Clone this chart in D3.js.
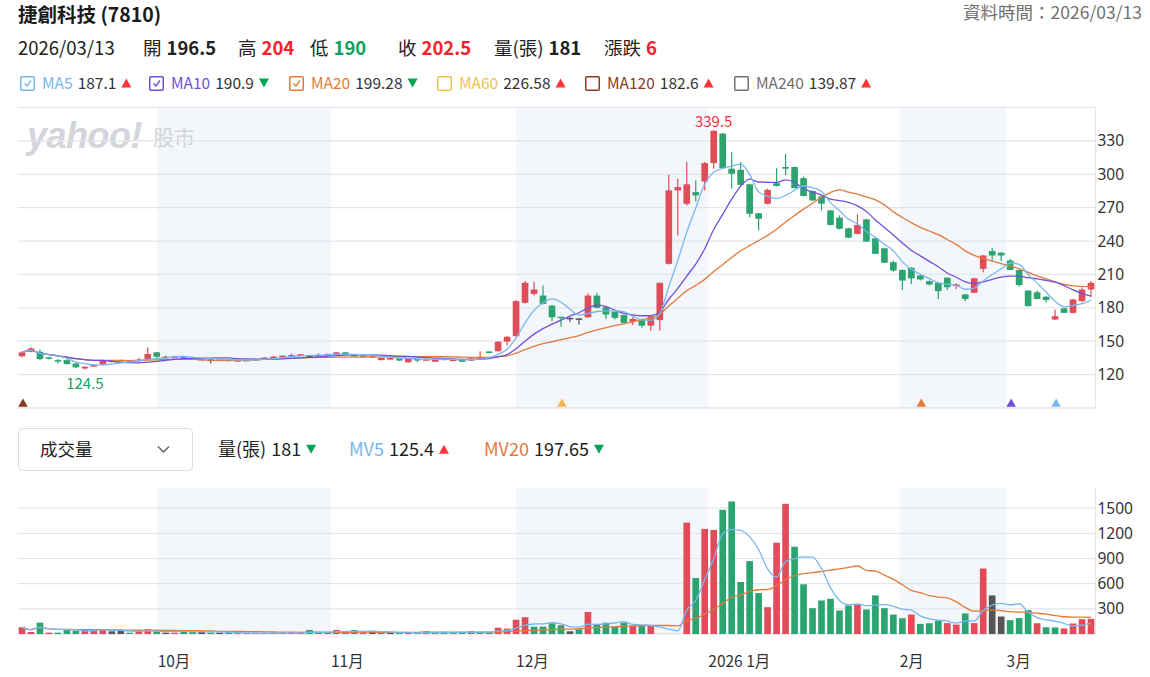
<!DOCTYPE html>
<html>
<head>
<meta charset="utf-8">
<script src="https://cdn.jsdelivr.net/npm/d3@7"></script>
<style>
  body { margin: 0; background: #fff; }
  svg { font-family: "Noto Sans CJK TC", "Noto Sans", sans-serif; }
</style>
</head>
<body>
<script>
// daily bars, 捷創科技 (7810), oldest first
const opens  = [136.5,140.5,140.5,135.5,133,133,130,125.5,127.5,129, 131.5,133,132.5,132,134,140,136,136,136.5,135.5,
                133.5,133.5,133,133.5,132,132.8,134,133.8,134.5,135.5, 136.8,136.8,137,137.5,137,138.2,140,137.7,137,136.3,
                133,133.5,134.5,131,134,133.5,131.5,134.5,133.3,134, 132.5,134.5,140.8,141,149.7,154.5,184.5,192.5,191,182,
                172,171,170.5,171.5,191,180.5,176.5,173.5,167.5,170, 164,169,219.5,285.5,273.5,284,293.5,310,336.5,305,
                304,291,265,273.5,292,306.5,306.5,296.5,285,280, 267.5,261,251.5,246.5,259.5,242.5,233.5,221,214,216,
                209,204,202.5,207,199.5,192,193.5,215,231,229.5, 222.5,214,195.5,194,190,169.5,179.5,175.5,186,196.5];
const highs  = [141,144.5,142.5,136,134,134,130.5,127.5,129,133, 133,133.5,133,135,144.5,140.5,137,137,137,136,
                134.5,134,134,134,133.5,133.5,134.5,135.5,136.5,137.3, 139,138.5,137.5,139,138.8,140.5,140.3,138,137.3,137,
                135.3,135.3,134.8,134.8,134.3,134.2,134.7,134.8,134,134.3, 134.8,141,141,150,154.5,187,204,203.5,200,182.5,
                172,171.3,170.6,193,193.5,181,177,174,171.5,170.5, 172.5,202.5,299.5,296,311,294.5,311,339.5,337,320,
                311,291.5,265.5,287,305.5,318.5,307,298,285.5,280.5, 268,263,252,264,260,243,234,222.5,214.5,216.5,
                209.5,204.5,203,207.5,202,192.5,207,227.5,234,230, 224,214.5,196,195.5,190.5,178.5,180,188,198.5,204];
const lows   = [135.5,140,133,133.5,130,129,126,124.5,127,128.5, 131,132,131,131,133.5,135,135.5,135.5,134.5,133.5,
                133,130,132.5,131.5,131.5,132.5,133.5,133.5,134.3,135.3, 136.5,136.5,136.5,137,136.8,138,137.5,136.5,136.3,136,
                132.8,133.3,132.3,130.8,131,133.2,131.3,132.8,133,131.3, 132.3,134.3,139.8,140.5,146,154,184,191,183,168,
                163,167,165,171,179.5,170,169.5,166,164.5,162, 159.5,159.5,219,245,272,275.5,285.5,305,305,287,
                290,261.5,249.5,273,289,299,287.5,280,276,267.5, 254,250.5,242.5,246,239.5,228.5,220.5,212.5,196,201.5,
                204.5,200,188,196,197,186,193,212,222.5,222, 214,199,181.5,187.5,184.8,169,175.5,175,185,190];
const closes = [140,143.5,134,134.5,132,129.5,126.5,127,128.5,132.5, 132.5,132.5,131.5,133.5,138.5,136,136,136.5,135,134,
                134,133.5,133.5,132.5,133,133.2,134,135.3,136.2,137, 137.6,138.3,137,137.5,138.6,140,137.7,136.8,136.5,136.5,
                135,135,132.6,134.5,133.7,133.8,134.5,133,133.5,131.5, 134.5,135.5,140,149.5,154,186,202.5,196.5,183.5,171.5,
                171,171,170.5,191,180,174,171,166.5,170,164, 172.5,202.5,285.5,288.5,291,281,310,339,305.5,300.5,
                290.5,264.5,260,286,289.5,305,287.5,280.5,276.5,273.5, 254.5,251,243,254.5,239.5,228.5,220.5,213.5,204.5,206.5,
                205.5,201,195,198.5,201,188,206.5,227,227,227, 214,200.5,181.5,188,187,172.5,175.5,187.5,196.5,202.5];
const volumes = [80,24,135,16,16,56,40,48,48,48, 32,36,16,32,56,32,16,16,32,28,
                 32,16,16,12,10,10,12,12,12,14, 14,14,48,14,14,48,32,48,16,32,
                 16,12,12,20,10,32,12,16,12,20, 32,24,16,75,64,170,200,87,87,127,
                 104,32,56,262,116,135,87,135,95,95, 95,0,0,0,1328,668,1252,1240,1480,1580,
                 620,868,488,320,1088,1552,1040,592,308,400, 420,280,340,348,292,460,308,232,188,232,
                 120,128,160,130,112,245,130,780,460,208, 165,190,285,128,80,78,66,125,177,181];

const priceTicks = [120, 150, 180, 210, 240, 270, 300, 330];
const priceGrid = [120, 150, 180, 210, 240, 270, 300, 330, 360];
const volTicks = [300, 600, 900, 1200, 1500];
// month starts in bar units and their labels
const monthTicks = [15.1, 34.4, 55, 76.4, 97.7, 109.6];
const monthLabels = ['10月', '11月', '12月', '2026 1月', '2月', '3月'];
const shadedMonths = [[15.1, 34.4], [55, 76.4], [97.7, 109.6]];
// crossover markers on the price axis
const markerBars = [0, 60, 100, 110, 115];
const markerColors = ['#8b3a22', '#f0b64a', '#e27a3b', '#6f4ed6', '#7cb8ee'];

const maDefs = [
  {name: 'MA5', n: 5, val: '187.1', up: true, color: '#79b6ef', on: true},
  {name: 'MA10', n: 10, val: '190.9', up: false, color: '#7150d9', on: true},
  {name: 'MA20', n: 20, val: '199.28', up: false, color: '#e27a3b', on: true},
  {name: 'MA60', n: 60, val: '226.58', up: true, color: '#f0c34e', on: false},
  {name: 'MA120', n: 120, val: '182.6', up: true, color: '#8b3a22', on: false},
  {name: 'MA240', n: 240, val: '139.87', up: true, color: '#6e6e6e', on: false}
];

const RED = '#e04c57', GREEN = '#2ba46f', GRAY = '#555', UP = '#ff333a', DOWN = '#00a651';

function movingAvg(arr, n) {
  return arr.map((v, i) => d3.mean(arr.slice(Math.max(0, i - n + 1), i + 1)));
}

const W = 1150, H = 677;
const svg = d3.select('body').append('svg').attr('width', W).attr('height', H);

const x = d3.scaleLinear().domain([-0.5, closes.length - 0.5]).range([17.5, 1095.5]);
const y = d3.scaleLinear().domain([90, 360]).range([408, 107.5]);
const yv = d3.scaleLinear().domain([0, 1740]).range([634, 488]);
const bw = (x(1) - x(0)) * 0.74;

// ---------- header ----------
function tri(g, cx, cy, up, color) {
  g.append('path')
    .attr('d', up ? `M${cx - 5},${cy + 4}L${cx + 5},${cy + 4}L${cx},${cy - 5}Z` : `M${cx - 5},${cy - 5}L${cx + 5},${cy - 5}L${cx},${cy + 4}Z`)
    .attr('fill', color);
}
function row(g, x0, yy, parts, size) {
  let cx = x0;
  parts.forEach(p => {
    if (p.tri !== undefined) { tri(g, cx + 5, yy - size * 0.35, p.tri, p.tri ? UP : DOWN); cx += 12; return; }
    const t = g.append('text').attr('x', cx).attr('y', yy).attr('font-size', size)
      .attr('fill', p.fill || '#222').attr('font-weight', p.bold ? 700 : 400).text(p.t);
    cx += t.node().getComputedTextLength() + (p.gap === undefined ? 5 : p.gap);
  });
}

const head = svg.append('g');
head.append('text').attr('x', 18).attr('y', 22).attr('font-size', 19.5).attr('font-weight', 700).attr('fill', '#1a1a1a').text('捷創科技 (7810)');
head.append('text').attr('x', 1142).attr('y', 19).attr('font-size', 17.5).attr('fill', '#707070').attr('text-anchor', 'end').text('資料時間：2026/03/13');

row(head, 18, 55, [{t: '2026/03/13'}], 18.5);
row(head, 143, 55, [{t: '開'}, {t: '196.5', bold: true}], 18.5);
row(head, 238, 55, [{t: '高'}, {t: '204', bold: true, fill: '#f5222d'}], 18.5);
row(head, 310, 55, [{t: '低'}, {t: '190', bold: true, fill: '#0fa160'}], 18.5);
row(head, 398, 55, [{t: '收'}, {t: '202.5', bold: true, fill: '#f5222d'}], 18.5);
row(head, 494, 55, [{t: '量(張)'}, {t: '181', bold: true}], 18.5);
row(head, 604, 55, [{t: '漲跌'}, {t: '6', bold: true, fill: '#f5222d'}], 18.5);

// MA legend
const legX = [20, 149, 289, 437, 585, 734];
maDefs.forEach((m, k) => {
  const g = head.append('g');
  g.append('rect').attr('x', legX[k] + 0.75).attr('y', 76.75).attr('width', 13.5).attr('height', 13.5)
    .attr('fill', '#fff').attr('stroke', m.color).attr('stroke-width', 1.5).attr('rx', 1);
  if (m.on) g.append('path').attr('d', `M${legX[k] + 4.5},${83.5}L${legX[k] + 7},${86}L${legX[k] + 11},${80.5}`)
    .attr('fill', 'none').attr('stroke', m.color).attr('stroke-width', 1.4);
  row(g, legX[k] + 22, 89, [{t: m.name, fill: m.color}, {t: m.val, fill: '#333'}, {tri: m.up}], 15.5);
});

// ---------- price panel ----------
const pg = svg.append('g');
shadedMonths.forEach(s => {
  pg.append('rect').attr('x', x(s[0])).attr('y', y(360)).attr('width', x(s[1]) - x(s[0])).attr('height', y(90) - y(360)).attr('fill', '#f3f6fa');
  pg.append('rect').attr('x', x(s[0])).attr('y', yv.range()[1]).attr('width', x(s[1]) - x(s[0])).attr('height', yv(0) - yv.range()[1]).attr('fill', '#f3f6fa');
});

pg.append('text').attr('x', 27).attr('y', 148).attr('font-size', 36).attr('font-weight', 700).attr('font-style', 'italic')
  .attr('fill', '#d3d5da').attr('font-family', 'Liberation Sans, Arial, sans-serif').attr('letter-spacing', -0.5).text('yahoo!');
pg.append('text').attr('x', 153).attr('y', 145).attr('font-size', 21).attr('fill', '#d3d5da').text('股市');

pg.selectAll('.pgrid').data(priceGrid).enter().append('line')
  .attr('x1', x.range()[0]).attr('x2', x.range()[1]).attr('y1', d => y(d)).attr('y2', d => y(d))
  .attr('stroke', '#e3e5ea').attr('stroke-width', 1.2);
pg.append('line').attr('x1', x.range()[0]).attr('x2', x.range()[1]).attr('y1', y(90)).attr('y2', y(90)).attr('stroke', '#d7dadf').attr('stroke-width', 1.2);
pg.append('line').attr('x1', x.range()[1]).attr('x2', x.range()[1]).attr('y1', y(360)).attr('y2', y(90)).attr('stroke', '#e3e5ea');

const yAxis = pg.append('g').attr('transform', `translate(${x.range()[1]},0)`)
  .call(d3.axisRight(y).tickValues(priceTicks).tickSize(0).tickPadding(2));
yAxis.select('.domain').remove();
yAxis.selectAll('text').attr('font-size', 15.5).attr('fill', '#333').attr('font-family', '"Noto Sans", sans-serif');

const idx = d3.range(closes.length);
const col = i => closes[i] > opens[i] ? RED : closes[i] < opens[i] ? GREEN : GRAY;

pg.selectAll('.wick').data(idx).enter().append('line')
  .attr('x1', i => x(i)).attr('x2', i => x(i)).attr('y1', i => y(highs[i])).attr('y2', i => y(lows[i]))
  .attr('stroke', col).attr('stroke-width', 1.2);
pg.selectAll('.body').data(idx).enter().append('rect')
  .attr('x', i => x(i) - bw / 2).attr('width', bw)
  .attr('y', i => y(Math.max(opens[i], closes[i])))
  .attr('height', i => Math.max(1.5, Math.abs(y(opens[i]) - y(closes[i]))))
  .attr('fill', col);

const line = d3.line().x((d, i) => x(i)).y(d => y(d)).curve(d3.curveMonotoneX);
maDefs.filter(m => m.on).reverse().forEach(m => {
  pg.append('path').attr('d', line(movingAvg(closes, m.n))).attr('fill', 'none').attr('stroke', m.color).attr('stroke-width', 1.3);
});

const hiI = d3.maxIndex(highs), loI = d3.minIndex(lows);
pg.append('text').attr('x', x(hiI)).attr('y', y(highs[hiI]) - 3).attr('text-anchor', 'middle').attr('font-size', 15).attr('fill', '#f0343c').text(highs[hiI]);
pg.append('text').attr('x', x(loI)).attr('y', y(lows[loI]) + 19).attr('text-anchor', 'middle').attr('font-size', 15).attr('fill', '#12a467').text(lows[loI]);

markerBars.forEach((b, k) => {
  pg.append('path').attr('d', d3.symbol(d3.symbolTriangle, 40)()).attr('transform', `translate(${x(b) + 1},${y(90) - 4})`).attr('fill', markerColors[k]);
});

// ---------- volume panel ----------
const vh = svg.append('g');
vh.append('rect').attr('x', 18.5).attr('y', 428.5).attr('width', 174).attr('height', 42).attr('rx', 4).attr('fill', '#fff').attr('stroke', '#dadde1');
vh.append('text').attr('x', 40).attr('y', 456).attr('font-size', 17.5).attr('fill', '#222').text('成交量');
vh.append('path').attr('d', 'M158,446.5L163.5,452L169,446.5').attr('fill', 'none').attr('stroke', '#666').attr('stroke-width', 1.5);
row(vh, 218, 456, [{t: '量(張)'}, {t: '181'}, {tri: false}], 18);
row(vh, 349, 456, [{t: 'MV5', fill: '#79b6ef'}, {t: '125.4'}, {tri: true}], 18);
row(vh, 484, 456, [{t: 'MV20', fill: '#e27a3b'}, {t: '197.65'}, {tri: false}], 18);

const vg = svg.append('g');
vg.selectAll('.vgrid').data(volTicks).enter().append('line')
  .attr('x1', x.range()[0]).attr('x2', x.range()[1]).attr('y1', d => yv(d)).attr('y2', d => yv(d))
  .attr('stroke', '#e3e5ea').attr('stroke-width', 1.2);
vg.append('line').attr('x1', x.range()[0]).attr('x2', x.range()[1]).attr('y1', yv(0)).attr('y2', yv(0)).attr('stroke', '#d7dadf').attr('stroke-width', 1.2);
vg.append('line').attr('x1', x.range()[1]).attr('x2', x.range()[1]).attr('y1', yv.range()[1]).attr('y2', yv(0)).attr('stroke', '#e3e5ea');

const vAxis = vg.append('g').attr('transform', `translate(${x.range()[1]},0)`)
  .call(d3.axisRight(yv).tickValues(volTicks).tickSize(0).tickPadding(2).tickFormat(d3.format('d')));
vAxis.select('.domain').remove();
vAxis.selectAll('text').attr('font-size', 15.5).attr('fill', '#333').attr('font-family', '"Noto Sans", sans-serif');

const vcol = i => {
  const prev = i > 0 ? closes[i - 1] : opens[i];
  return closes[i] > prev ? RED : closes[i] < prev ? GREEN : GRAY;
};
vg.selectAll('.vbar').data(idx.filter(i => volumes[i] > 0)).enter().append('rect')
  .attr('x', i => x(i) - bw / 2).attr('width', bw)
  .attr('y', i => yv(volumes[i])).attr('height', i => yv(0) - yv(volumes[i]))
  .attr('fill', vcol);

const vline = d3.line().x((d, i) => x(i)).y(d => yv(d)).curve(d3.curveMonotoneX);
vg.append('path').attr('d', vline(movingAvg(volumes, 20))).attr('fill', 'none').attr('stroke', '#e27a3b').attr('stroke-width', 1.3);
vg.append('path').attr('d', vline(movingAvg(volumes, 5))).attr('fill', 'none').attr('stroke', '#79b6ef').attr('stroke-width', 1.3);

// month labels
vg.selectAll('.mlab').data(monthTicks).enter().append('text')
  .attr('x', d => x(d)).attr('y', 667).attr('font-size', 15.5).attr('fill', '#333')
  .text((d, k) => monthLabels[k]);
</script>
</body>
</html>
